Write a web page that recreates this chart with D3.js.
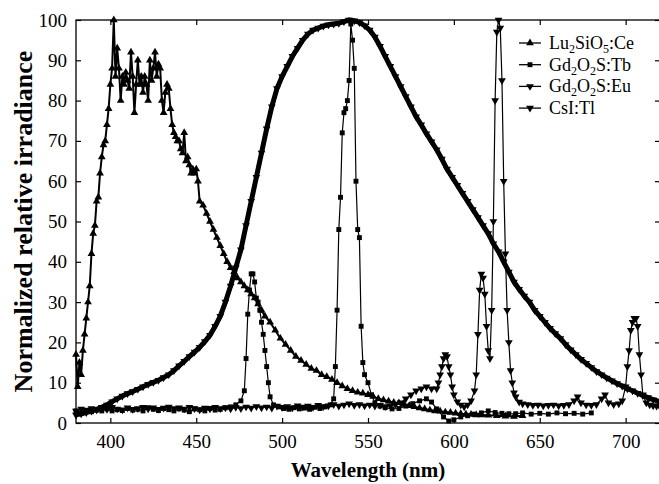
<!DOCTYPE html>
<html>
<head>
<meta charset="utf-8">
<script src="https://cdn.jsdelivr.net/npm/d3@7"></script>
<style>
    body { margin: 0; background: #fff; }
    text { font-family: "Liberation Serif", "Times New Roman", serif; fill: #000; }
</style>
</head>
<body>
<div id="chart"></div>
<script>
"use strict"

// wavelength (nm), normalized relative irradiance
let luSio = [
    [380,17],[381,9],[382,15],[383,12],[384,18],[385,22],[386,26],[387,30],[388,34],[389,42],
    [390,47],[391,49],[392,55],[393,56],[394,62],[395,66],[396,69],[397,70],[398,74],[399,78],
    [400,84],[401,88],[402,100],[403,86],[404,93],[405,88],[406,80],[407,86],[408,84],[409,87],
    [410,85],[411,83],[412,92],[413,86],[414,77],[415,84],[416,90],[417,84],[418,86],[419,82],
    [420,86],[421,84],[422,80],[423,90],[424,85],[425,88],[426,92],[427,86],[428,89],[429,88],
    [430,80],[431,77],[432,82],[433,84],[434,83],[435,78],[436,74],[437,72],[438,71],[439,70],
    [440,70],[441,68],[442,67],[443,72],[444,65],[445,66],[446,64],[447,62],[448,63],[449,62],
    [450,63],[451,60],[452,55],[454,54],[456,52],[458,50],[460,48],[462,46],[464,44],[466,42],
    [468,40],[470,38.5],[472,37.5],[474,36],[476,35],[478,34],[480,33],[482,32],[484,31],[486,29.5],
    [488,28],[490,26.5],[493,25],[496,23],[499,21],[502,19.5],[505,18],[508,16.5],[511,15.5],[514,14.5],
    [517,13.5],[520,13],[523,12],[526,11.5],[529,10.8],[532,10],[535,9.2],[538,8.5],[541,8],[544,7.6],
    [547,7.4],[550,7],[553,6.6],[556,6],[559,5.7],[562,5.4],[565,5.1],[568,5],[571,4.6],[574,4.3],
    [577,4],[580,3.7],[583,3.5],[586,3.2],[589,3],[592,2.9],[595,2.7],[598,2.6],[601,2.4],[604,2.3],
    [607,2.2],[610,2.1],[613,2],[616,2],[620,1.9],[625,1.8],[630,1.7],[635,1.6],[640,1.8]
];

let gdTb = [
    [380,3],[383,2.5],[386,3],[389,2.8],[392,3.2],[395,3],[398,3.5],[401,3],[404,3.3],[407,3.1],
    [410,3.6],[413,3.2],[416,3.4],[419,3],[422,3.8],[425,3.4],[428,3.1],[431,3.6],[434,3.3],[437,3],
    [440,3.5],[443,3.2],[446,2.8],[449,3.5],[452,3.3],[455,3],[458,3.6],[461,3.2],[464,3.4],[467,3.8],
    [470,4],[473,4.5],[476,5.5],[478,8],[479,16],[480,27],[481,33],[482,37],[483,37],[484,35],
    [485,31],[486,30],[487,28],[488,25],[489,22],[490,18],[491,14],[492,10],[493,6.5],[495,4.5],
    [498,4],[501,3.6],[504,3.4],[507,3.8],[510,3.5],[513,3.7],[516,3.4],[519,3.9],[522,3.6],[525,4],
    [528,4.5],[530,6],[531,14],[532,28],[533,48],[534,56],[535,72],[536,77],[537,78],[538,80],
    [539,85],[540,99],[541,95],[542,88],[543,60],[544,48],[545,46],[546,24],[547,15],[548,12],
    [550,10],[552,7],[554,5],[557,4.2],[560,3.8],[564,3.5],[568,3.6],[572,4.2],[576,4.8],[580,5.5],
    [584,6],[587,5.2],[590,3.5],[594,1.5],[597,0.5],[600,0.8],[604,1.5],[608,1.8],[612,2.2],[616,2.5],
    [620,3],[624,2.6],[628,2.4],[632,2.3],[636,2.3],[640,2.5],[645,2.2],[650,2.4],[655,2.2],[660,2.5],
    [665,2.3],[670,2.4],[675,2.2],[680,2.5]
];

let gdEu = [
    [380,3],[383,3.5],[386,3.2],[389,3.6],[392,3.3],[395,3.8],[398,3.4],[401,3.9],[404,3.5],[407,3.3],
    [410,3.8],[413,3.4],[416,3.6],[419,3.9],[422,3.5],[425,3.8],[428,3.4],[431,3.7],[434,4],[437,3.6],
    [440,3.8],[443,3.5],[446,3.9],[449,3.6],[452,3.3],[455,3.7],[458,3.5],[461,3.9],[464,3.6],[467,3.8],
    [470,3.5],[473,3.9],[476,3.6],[479,4],[482,3.7],[485,4.1],[488,3.8],[491,4],[494,3.7],[497,4.2],
    [500,3.9],[503,4.1],[506,3.8],[509,4.3],[512,4],[515,4.2],[518,3.9],[521,4.4],[524,4.1],[527,4.3],
    [530,4.6],[533,4.2],[536,4.5],[539,4.8],[542,4.4],[545,4.6],[548,4.3],[551,4.5],[554,4.2],[557,4.4],
    [560,4.1],[563,4.3],[566,4.6],[569,5],[572,6],[575,7],[578,8],[581,8.5],[584,9],[587,8.5],
    [590,8.5],[591,10],[592,12],[593,14],[594,16],[595,17],[596,16.5],[597,14],[598,12],[599,9],
    [600,7],[602,5.3],[604,4.5],[606,4],[608,4.5],[610,5.5],[612,8],[613,12],[614,22],[615,33],
    [616,37],[617,36],[618,32],[619,24],[620,18],[621,16],[622,28],[623,50],[624,80],[625,97],
    [626,100],[627,98],[628,85],[629,60],[630,42],[631,28],[632,20],[633,13],[634,10],[635,7.5],
    [636,6.5],[638,5.2],[640,4.8],[643,4.6],[646,4.4],[649,4.5],[652,4.3],[655,4.4],[658,4.5],[661,4.3],
    [664,4.4],[667,4.6],[670,5.5],[672,6.5],[674,5],[677,4.5],[680,4.4],[683,4.6],[686,6],[688,7],
    [690,5],[693,4.6],[696,4.8],[698,5.5],[700,9],[701,14],[702,18],[703,23],[704,25],[705,26],
    [706,26],[707,24],[708,17],[709,12],[710,7],[712,5],[714,4.5],[716,4.3],[718,4.2],[720,4]
];

let csiTl = [
    [380,2],[383,2.3],[386,2.6],[389,3],[392,3.4],[395,3.9],[398,4.5],[401,5.3],[404,6],[407,6.7],
    [410,7.3],[413,7.8],[416,8.4],[419,9],[422,9.6],[425,10.1],[428,10.6],[431,11.3],[434,12],[437,13],
    [440,14.2],[443,15.3],[446,16.5],[449,17.6],[452,18.8],[455,20.2],[458,21.8],[461,24],[464,26.5],[467,30],
    [470,34],[473,38.5],[476,43],[479,49],[482,55],[485,61],[488,67],[491,73],[494,78.5],[497,83],
    [500,86],[503,88.5],[506,91],[509,93],[512,95],[515,96.5],[518,97.5],[521,98],[524,98.5],[527,98.8],
    [530,99],[533,99.2],[536,99.6],[539,100],[542,99.8],[545,99.4],[548,98.6],[551,97.5],[554,95.8],[557,93.5],
    [560,91],[563,88.5],[566,86],[569,83.5],[572,81],[575,78.5],[578,76],[581,74],[584,71.8],[587,69.8],
    [590,67.8],[593,65.5],[596,63],[599,61],[602,59],[605,57],[608,55],[611,53],[614,51],[617,49],
    [620,47],[623,44.5],[626,42.5],[629,40],[632,37.5],[635,35],[638,33.2],[641,31.5],[644,30],[647,28],
    [650,26.5],[653,25],[656,23.5],[659,22.2],[662,21],[665,19.5],[668,18.2],[671,17],[674,15.8],[677,14.8],
    [680,13.8],[683,12.8],[686,12],[689,11.2],[692,10.5],[695,9.8],[698,9.2],[701,8.5],[704,8],[707,7.4],
    [710,6.8],[713,6.3],[716,5.8],[719,5.4]
];

let seriesNames = ["Lu_2SiO_5:Ce", "Gd_2O_2S:Tb", "Gd_2O_2S:Eu", "CsI:Tl"];
let seriesMarkers = ["up", "square", "down", "down"];
let xTicks = [400, 450, 500, 550, 600, 650, 700];
let yTicks = [0, 10, 20, 30, 40, 50, 60, 70, 80, 90, 100];

let width = 659, height = 484;
let margin = { top: 20, right: -1, bottom: 61, left: 76 };

let svg = d3.select("#chart").append("svg")
    .attr("width", width)
    .attr("height", height);

let x = d3.scaleLinear()
    .domain([380, 720])
    .range([margin.left, width - margin.right]);

let y = d3.scaleLinear()
    .domain([0, 100])
    .range([height - margin.bottom, margin.top]);

// axes with inward ticks on all four sides
svg.append("g")
    .attr("transform", "translate(0," + y(0) + ")")
    .call(d3.axisBottom(x).tickValues(xTicks).tickSize(-5).tickSizeOuter(0).tickPadding(12));

svg.append("g")
    .attr("transform", "translate(0," + y(100) + ")")
    .call(d3.axisTop(x).tickValues(xTicks).tickSize(-5).tickSizeOuter(0).tickFormat(""));

svg.append("g")
    .attr("transform", "translate(" + x(380) + ",0)")
    .call(d3.axisLeft(y).tickValues(yTicks).tickSize(-5).tickSizeOuter(0).tickPadding(9));

svg.append("g")
    .attr("transform", "translate(" + x(720) + ",0)")
    .call(d3.axisRight(y).tickValues(yTicks).tickSize(-5).tickSizeOuter(0).tickFormat(""));

svg.selectAll(".domain").remove();
svg.selectAll(".tick line").attr("stroke", "#000").attr("stroke-width", 1.2);
svg.selectAll(".tick text")
    .style("font-family", "'Liberation Serif', 'Times New Roman', serif")
    .style("font-size", "19px")
    .attr("fill", "#000");

// frame
svg.append("rect")
    .attr("x", x(380))
    .attr("y", y(100))
    .attr("width", x(720) - x(380))
    .attr("height", y(0) - y(100))
    .attr("fill", "none")
    .attr("stroke", "#000")
    .attr("stroke-width", 1.3);

// axis titles
svg.append("text")
    .attr("x", (x(380) + x(720)) / 2)
    .attr("y", 477)
    .style("text-anchor", "middle")
    .style("font-size", "21px")
    .style("font-weight", "bold")
    .text("Wavelength (nm)");

svg.append("text")
    .attr("transform", "translate(32," + (y(50)) + ") rotate(-90)")
    .style("text-anchor", "middle")
    .style("font-size", "26px")
    .style("font-weight", "bold")
    .text("Normalized relative irradiance");

function markerPath(type) {
    if (type === "square") {
        return d3.symbol().type(d3.symbolSquare).size(24)();
    }
    return d3.symbol().type(d3.symbolTriangle).size(26)();
}

function markerTransform(type, px, py) {
    let t = "translate(" + px + "," + py + ")";
    return type === "down" ? t + " rotate(180)" : t;
}

let line = d3.line()
    .x(d => x(d[0]))
    .y(d => y(d[1]));

let allSeries = [luSio, gdTb, gdEu, csiTl];
let lineWidths = [2, 1.2, 1.2, 5];

// draw each spectrum with its markers
allSeries.forEach(function(data, i) {
    let g = svg.append("g").attr("class", "series");

    g.append("path")
        .datum(data)
        .attr("d", line)
        .attr("fill", "none")
        .attr("stroke", "#000")
        .attr("stroke-width", lineWidths[i])
        .attr("stroke-linejoin", "round");

    g.selectAll(".marker")
        .data(data)
        .enter().append("path")
        .attr("class", "marker")
        .attr("d", markerPath(seriesMarkers[i]))
        .attr("transform", d => markerTransform(seriesMarkers[i], x(d[0]), y(d[1])))
        .attr("fill", "#000");
});

// legend
let legend = svg.append("g").attr("class", "legend");

seriesNames.forEach(function(name, i) {
    let ly = 43 + i * 21.7;

    legend.append("line")
        .attr("x1", 519)
        .attr("x2", 541)
        .attr("y1", ly)
        .attr("y2", ly)
        .attr("stroke", "#000")
        .attr("stroke-width", 1.3);

    legend.append("path")
        .attr("d", markerPath(seriesMarkers[i]))
        .attr("transform", markerTransform(seriesMarkers[i], 530, ly))
        .attr("fill", "#000");

    let label = legend.append("text")
        .attr("x", 549)
        .attr("y", ly + 6)
        .style("font-size", "18px");

    // "_n" marks a subscript digit
    let parts = name.split(/_(\d)/);
    parts.forEach(function(part, j) {
        if (part === "") return;
        if (j % 2 === 1) {
            label.append("tspan")
                .attr("dy", 4)
                .style("font-size", "12px")
                .text(part);
        } else {
            label.append("tspan")
                .attr("dy", j === 0 ? 0 : -4)
                .text(part);
        }
    });
});
</script>
</body>
</html>
